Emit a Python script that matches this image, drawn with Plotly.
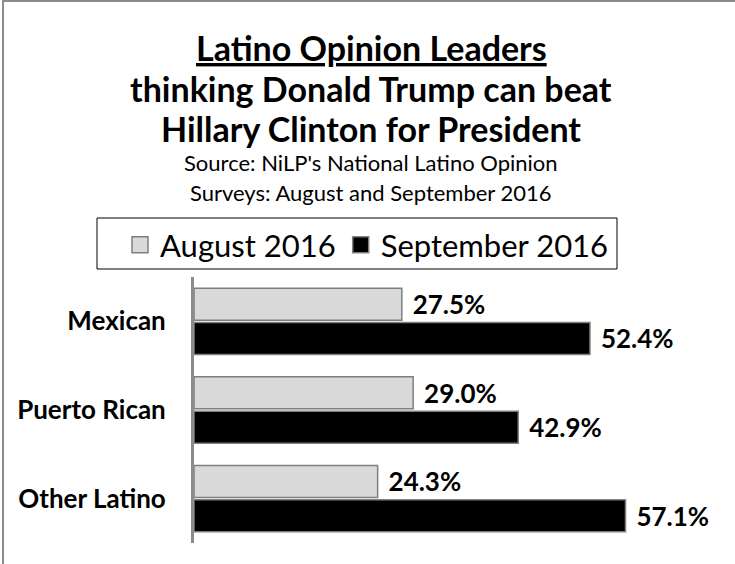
import plotly.graph_objects as go

categories = ["Mexican", "Puerto Rican", "Other Latino"]
aug_2016 = [27.5, 29.0, 24.3]
sep_2016 = [52.4, 42.9, 57.1]
series_names = ["August 2016", "September 2016"]

FONT = "Lato"
W, H = 735, 564
ML, MR, MT, MB = 194, 12, 277, 21
PW, PH = W - ML - MR, H - MT - MB


def px_x(x):
    return (x - ML) / PW


def px_y(y):
    return (H - MB - y) / PH


fig = go.Figure()
fills = ["#d9d9d9", "#000000"]
for name, vals, col in zip(series_names, [aug_2016, sep_2016], fills):
    fig.add_trace(go.Bar(
        y=categories, x=vals, orientation="h", name=name,
        marker=dict(color=col, line=dict(color="#7f7f7f", width=1.5)),
        text=[f"{v:.1f}%" for v in vals],
        texttemplate=" \u200a%{text}",
        textposition="outside", cliponaxis=False,
        textfont=dict(family=FONT, size=26, color="black", weight="bold"),
        showlegend=False,
    ))
    fig.add_trace(go.Scatter(
        x=[None], y=[None], mode="markers", name=name,
        marker=dict(symbol="square", size=18, color=col,
                    line=dict(color="#7f7f7f", width=1.5)),
        showlegend=True,
    ))

fig.update_layout(
    width=W, height=H,
    margin=dict(l=ML, r=MR, t=MT, b=MB),
    paper_bgcolor="white", plot_bgcolor="white",
    barmode="group", bargap=0.225, bargroupgap=0.07,
    font=dict(family=FONT, color="black"),
    xaxis=dict(range=[0, 70], visible=False, showgrid=False, zeroline=False),
    yaxis=dict(autorange="reversed", showline=True, linecolor="#8c8c8c",
               linewidth=3, ticks="", showgrid=False, ticklabelstandoff=20,
               tickfont=dict(family=FONT, size=26, color="black", weight="bold")),
    legend=dict(orientation="h", x=px_x(120), xanchor="left",
                y=px_y(218), yanchor="top",
                borderwidth=0, bgcolor="rgba(0,0,0,0)",
                font=dict(family=FONT, size=31, color="black"),
                itemclick=False, itemdoubleclick=False),
    shapes=[
        dict(type="rect", xref="paper", yref="paper",
             x0=px_x(3), x1=px_x(W + 20), y0=px_y(H + 20), y1=px_y(1),
             line=dict(color="#8c8c8c", width=2), layer="below"),
        dict(type="rect", xref="paper", yref="paper",
             x0=px_x(97), x1=px_x(617), y0=px_y(269), y1=px_y(218),
             line=dict(color="black", width=1), layer="below"),
    ],
)

title_lines = [
    ("<u>Latino Opinion Leaders</u>", 47, 34, "bold"),
    ("thinking Donald Trump can beat", 89, 34, "bold"),
    ("Hillary Clinton for President", 129, 34, "bold"),
    ("Source: NiLP's National Latino Opinion", 162, 22, "normal"),
    ("Surveys: August and September 2016", 192, 22, "normal"),
]
for txt, yy, sz, wt in title_lines:
    fig.add_annotation(text=txt, xref="paper", yref="paper",
                       x=px_x(371), y=px_y(yy), xanchor="center",
                       yanchor="middle", showarrow=False,
                       font=dict(family=FONT, size=sz, color="black", weight=wt))

fig.write_html("out.html", config={"displayModeBar": False},
               post_script="document.body.style.margin='0';document.body.style.overflow='hidden';")
